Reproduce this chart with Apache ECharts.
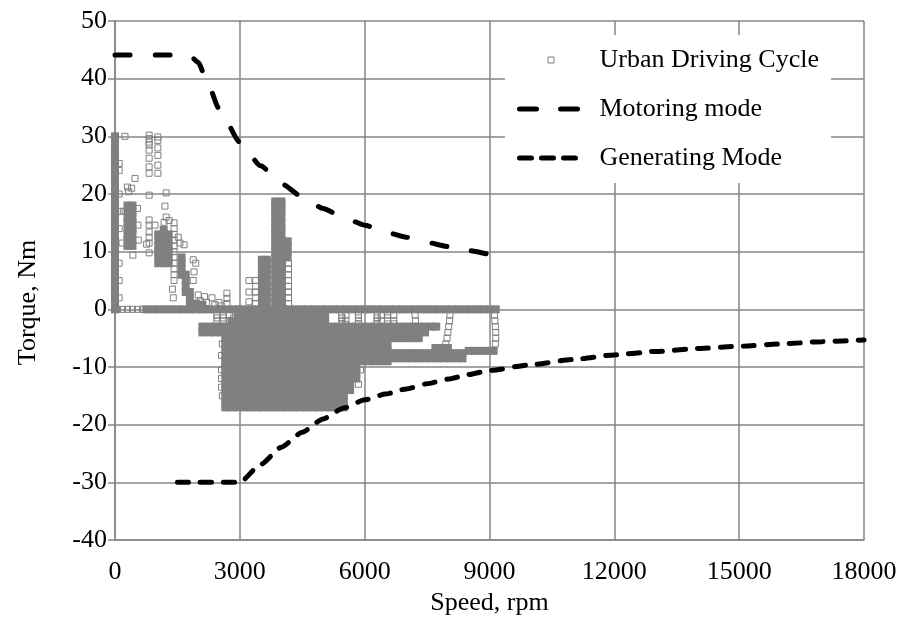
<!DOCTYPE html>
<html><head><meta charset="utf-8">
<script src="https://cdn.jsdelivr.net/npm/echarts@6/dist/echarts.min.js"></script>
<style>html,body{margin:0;padding:0;background:#fff}#chart{width:900px;height:619px}</style>
</head><body><div id="chart"></div>
<script>
const FONT = "'Liberation Serif','Times New Roman',serif";

// Motoring mode torque limit curve
const motoringSpeed  = [0, 500, 1000, 1500, 1800, 2000, 2200, 2500, 3000, 3500, 4000, 4500, 5000, 5500, 6000, 6500, 7000, 7500, 8000, 8500, 9000];
const motoringTorque = [44.1, 44.1, 44.1, 44.1, 44, 42.8, 39.8, 34.8, 29, 24.9, 21.8, 19.5, 17.5, 15.9, 14.6, 13.4, 12.5, 11.6, 10.9, 10.2, 9.5];

// Generating mode torque limit curve
const generatingSpeed  = [1500, 2000, 2500, 3000, 3500, 4000, 4500, 5000, 5500, 6000, 6500, 7000, 7500, 8000, 8500, 9000, 10000, 11000, 12000, 13000, 14000, 15000, 16000, 17000, 18000];
const generatingTorque = [-30, -30, -30, -30, -26.9, -23.9, -21.3, -19, -17.1, -15.7, -14.7, -13.8, -12.9, -12.1, -11.3, -10.6, -9.6, -8.7, -7.9, -7.3, -6.8, -6.4, -6, -5.6, -5.3];

// Urban driving cycle: isolated operating points [speed, torque]
const udcSparse = [
  [240,30],[820,30.2],[820,29.6],[820,29],[820,28.5],[820,27.6],[820,26.2],[820,24.7],[820,23.6],
  [1030,29.9],[1030,29.3],[1030,28],[1030,26.7],[1030,25],[1030,23.6],
  [100,25.3],[100,24.1],[480,22.7],[300,21.2],[400,21],[330,20.4],
  [820,19.8],[1230,20.2],[1200,17.9],[1230,16],
  [820,15.5],[820,14.6],[820,13.4],[820,12.5],[820,11.5],[760,11.3],[820,9.8],
  [960,14.6],[550,14.6],[560,12],[170,11.5],[430,9.4],[200,17],[540,17.5],
  [1180,15.1],[1300,15.4],[1420,15],[1420,14],[1420,13],[1420,12],[1420,11],[1420,10],[1420,9],[1420,8],[1420,7],[1420,6],[1420,5],
  [1520,12.5],[1560,11.5],[1660,11.2],[1880,8.6],[1940,8],[1900,6.5],[1880,5],
  [1380,3.5],[1400,2],[2000,2.5],[2050,1.5],[2150,2.2],[2200,1.2],[2330,2],[2400,0.8],[2500,1.2],[2550,0.6],
  [2690,2.8],[2690,1.9],[2690,1],
  [3220,5],[3220,3],[3220,1.3],[3380,5],[3380,4],[3380,3],[3380,2],[3380,1],
  [4170,1],[4170,2],[4170,3],[4170,4],[4170,5],[4170,6],[4170,7],[4170,8],
  [100,2],[100,5],[100,8],[100,14],[100,17],[100,20],
  [60,0],[180,0],[300,0],[420,0],[540,0],[660,0],
  [2450,-1],[2450,-1.5],[2450,-2],[2600,-1],[2600,-1.5],[2600,-2],[2750,-1],[2750,-2],[2850,-1.5],
  [2560,-10.5],[2560,-12],[2560,-13.5],[2580,-15],[2580,-6],[2560,-8],
  [5450,-1],[5450,-1.5],[5450,-2],[5450,-2.5],[5550,-1],[5550,-2],[5550,-2.6],
  [5850,-1],[5850,-1.5],[5850,-2],[5850,-2.5],
  [6300,-1],[6300,-1.5],[6300,-2],[6300,-2.5],[6400,-1],[6400,-2],[6550,-1],[6550,-1.5],[6550,-2],[6700,-1],[6700,-2],[6700,-2.5],
  [7210,-1],[7220,-2],[7240,-3],[7270,-4],[7300,-5],
  [8050,-1],[8040,-2],[8020,-3],[8000,-4],[7980,-5],[7950,-6],
  [9120,-1],[9130,-2],[9140,-3],[9150,-4],[9150,-5],[9140,-6],
  [5900,-10.5],[5850,-13]
];

// Urban driving cycle: densely overlapping points, by speed column [speed, [torques]]
const udcDenseColumns = [
  [0, [0,1,2,3,4,5,6,7,8,9,10,11,12,13,14,15,16,17,18,19,20,21,22,23,24,25,26,27,28,29,30]],
  [300, [11,12,13,14,15,16,17,18]],
  [420, [11,12,13,14,15,16,17,18]],
  [1040, [8,9,10,11,12,13]],
  [1170, [8,9,10,11,12,13,13.8]],
  [1290, [8,9,10,11,12,13]],
  [1600, [6,7,8,9]],
  [1700, [3,4,5,6]],
  [1800, [1,2,3]],
  [1950, [1]],
  [2100, [0.8]],
  [3530, [1,2,3,4,5,6,7,8,8.6]],
  [3650, [1,2,3,4,5,6,7,8,8.6]],
  [3850, [1,2,3,4,5,6,7,8,9,10,11,12,13,14,15,16,17,18,18.7]],
  [4000, [1,2,3,4,5,6,7,8,9,10,11,12,13,14,15,16,17,18,18.7]],
  [4150, [9,10,11,11.8]]
];

// Urban driving cycle: densely overlapping points, by torque row [torque, [speeds]]
const udcDenseRows = [
  [0, [750,900,1050,1200,1350,1500,1650,1800,1950,2100,2250,2400,2550,2700,2850,3000,3150,3300,3450,3600,3750,3900,4050,4200,4350,4500,4650,4800,4950,5100,5250,5400,5550,5700,5850,6000,6150,6300,6450,6600,6750,6900,7050,7200,7350,7500,7650,7800,7950,8100,8250,8400,8550,8700,8850,9000,9150]],
  [-1, [2950,3100,3250,3400,3550,3700,3850,4000,4150,4300,4450,4600,4750,4900,5050]],
  [-2, [2800,2950,3100,3250,3400,3550,3700,3850,4000,4150,4300,4450,4600,4750,4900,5050]],
  [-3, [2100,2250,2400,2550,2650,2800,2950,3100,3250,3400,3550,3700,3850,4000,4150,4300,4450,4600,4750,4900,5050,5200,5350,5500,5650,5800,5950,6100,6250,6400,6550,6700,6850,7000,7150,7300,7450,7600,7720]],
  [-4, [2100,2250,2400,2550,2650,2800,2950,3100,3250,3400,3550,3700,3850,4000,4150,4300,4450,4600,4750,4900,5050,5200,5350,5500,5650,5800,5950,6100,6250,6400,6550,6700,6850,7000,7150,7300,7450]],
  [-5, [2650,2800,2950,3100,3250,3400,3550,3700,3850,4000,4150,4300,4450,4600,4750,4900,5050,5200,5350,5500,5650,5800,5950,6100,6250,6400,6550,6700,6850,7000,7150,7300]],
  [-6, [2650,2800,2950,3100,3250,3400,3550,3700,3850,4000,4150,4300,4450,4600,4750,4900,5050,5200,5350,5500,5650,5800,5950,6100,6250,6400,6550]],
  [-6.7, [7700,7850,8000]],
  [-7, [2650,2800,2950,3100,3250,3400,3550,3700,3850,4000,4150,4300,4450,4600,4750,4900,5050,5200,5350,5500,5650,5800,5950,6100,6250,6400,6550]],
  [-7.2, [8500,8650,8800,8950,9100]],
  [-7.6, [6700,6850,7000,7150,7300,7450,7600,7750,7900,8050,8200,8350]],
  [-8, [2650,2800,2950,3100,3250,3400,3550,3700,3850,4000,4150,4300,4450,4600,4750,4900,5050,5200,5350,5500,5650,5800,5950,6100,6250,6400,6550]],
  [-8.5, [6700,6850,7000,7150,7300,7450,7600,7750,7900,8050,8200,8350]],
  [-9, [2650,2800,2950,3100,3250,3400,3550,3700,3850,4000,4150,4300,4450,4600,4750,4900,5050,5200,5350,5500,5650,5800,5950,6100,6250,6400,6550]],
  [-10, [2650,2800,2950,3100,3250,3400,3550,3700,3850,4000,4150,4300,4450,4600,4750,4900,5050,5200,5350,5500,5650,5800]],
  [-11, [2650,2800,2950,3100,3250,3400,3550,3700,3850,4000,4150,4300,4450,4600,4750,4900,5050,5200,5350,5500,5650,5800]],
  [-12, [2650,2800,2950,3100,3250,3400,3550,3700,3850,4000,4150,4300,4450,4600,4750,4900,5050,5200,5350,5500,5650,5800]],
  [-13, [2650,2800,2950,3100,3250,3400,3550,3700,3850,4000,4150,4300,4450,4600,4750,4900,5050,5200,5350,5500,5650]],
  [-14, [2650,2800,2950,3100,3250,3400,3550,3700,3850,4000,4150,4300,4450,4600,4750,4900,5050,5200,5350,5500,5650]],
  [-15, [2650,2800,2950,3100,3250,3400,3550,3700,3850,4000,4150,4300,4450,4600,4750,4900,5050,5200,5350,5500]],
  [-16, [2650,2800,2950,3100,3250,3400,3550,3700,3850,4000,4150,4300,4450,4600,4750,4900,5050,5200,5350,5500]],
  [-17, [2650,2800,2950,3100,3250,3400,3550,3700,3850,4000,4150,4300,4450,4600,4750,4900,5050,5200,5350,5500]]
];

const toPairs = (xs, ys) => xs.map((x, i) => [x, ys[i]]);
const udcDense = [];
udcDenseColumns.forEach(([s, ts]) => ts.forEach(t => udcDense.push([s, t])));
udcDenseRows.forEach(([t, ss]) => ss.forEach(s => udcDense.push([s, t])));

const GRID = '#868686';
const MARK = '#808080';
const SQUARE = 'path://M0,0L10,0L10,10L0,10Z';

const chart = echarts.init(document.getElementById('chart'), null, { renderer: 'canvas' });
chart.setOption({
  animation: false,
  backgroundColor: '#fff',
  textStyle: { fontFamily: FONT },
  grid: { left: 115, right: 36, top: 21, bottom: 79, containLabel: false, outerBoundsMode: 'none' },
  xAxis: {
    type: 'value', min: 0, max: 18000, interval: 3000,
    name: 'Speed, rpm', nameLocation: 'middle', nameGap: 50, nameMoveOverlap: false,
    nameTextStyle: { fontFamily: FONT, fontSize: 26, color: '#000' },
    axisLine: { onZero: false, lineStyle: { color: GRID, width: 1.5 } },
    axisTick: { show: false },
    axisLabel: { fontFamily: FONT, fontSize: 26, color: '#000', margin: 19, formatter: v => String(v) },
    splitLine: { show: true, lineStyle: { color: GRID, width: 1.5 } }
  },
  yAxis: {
    type: 'value', min: -40, max: 50, interval: 10,
    name: 'Torque, Nm', nameLocation: 'middle', nameGap: 74, nameRotate: 90, nameMoveOverlap: false,
    nameTextStyle: { fontFamily: FONT, fontSize: 26, color: '#000', padding: [0, 44, 0, 0] },
    axisLine: { onZero: false, lineStyle: { color: GRID, width: 1.5 } },
    axisTick: { show: true, length: 7, lineStyle: { color: GRID, width: 1.5 } },
    axisLabel: { fontFamily: FONT, fontSize: 26, color: '#000', margin: 8, padding: [6, 0, 0, 0], formatter: v => String(v) },
    splitLine: { show: true, lineStyle: { color: GRID, width: 1.5 } }
  },
  legend: {
    orient: 'vertical', left: 505, top: 35,
    backgroundColor: '#fff', padding: [12, 12, 12, 12],
    itemWidth: 63, itemHeight: 6, itemGap: 23,
    selectedMode: false, symbolKeepAspect: true,
    textStyle: { fontFamily: FONT, fontSize: 26, color: '#000', padding: [0, 0, 0, 12] },
    data: [
      { name: 'Urban Driving Cycle', icon: SQUARE, itemStyle: { color: 'rgba(0,0,0,0)', borderColor: MARK, borderWidth: 1, opacity: 1 } },
      { name: 'Motoring mode', itemStyle: { opacity: 0 }, lineStyle: { color: '#000', width: 5, type: [17, 24], cap: 'round' } },
      { name: 'Generating Mode', itemStyle: { opacity: 0 }, lineStyle: { color: '#000', width: 5, type: [12, 10], cap: 'round' } }
    ]
  },
  series: [
    {
      name: 'Urban Driving Cycle', type: 'scatter', data: udcSparse,
      symbol: 'rect', symbolSize: 6, clip: false, silent: true,
      itemStyle: { color: 'rgba(0,0,0,0)', borderColor: MARK, borderWidth: 1, opacity: 1 }
    },
    {
      name: 'Urban Driving Cycle', type: 'scatter', data: udcDense,
      symbol: 'rect', symbolSize: 8, clip: false, silent: true,
      itemStyle: { color: MARK, opacity: 1 }
    },
    {
      name: 'Motoring mode', type: 'line', data: toPairs(motoringSpeed, motoringTorque),
      symbol: 'none', smooth: 0.2, smoothMonotone: 'x', silent: true, z: 3,
      itemStyle: { color: '#000' },
      lineStyle: { color: '#000', width: 5, type: [15, 25], cap: 'round' }
    },
    {
      name: 'Generating Mode', type: 'line', data: toPairs(generatingSpeed, generatingTorque),
      symbol: 'none', smooth: 0.2, smoothMonotone: 'x', silent: true, z: 3,
      itemStyle: { color: '#000' },
      lineStyle: { color: '#000', width: 5, type: [11, 12], cap: 'round' }
    }
  ]
});
</script>
</body></html>
